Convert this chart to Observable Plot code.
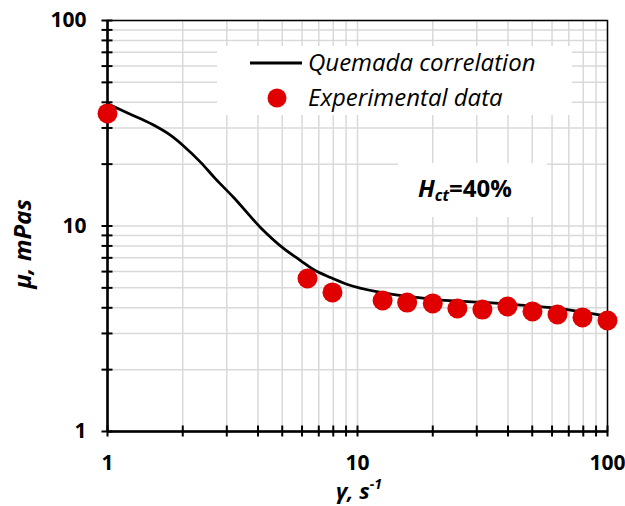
<!DOCTYPE html>
<html><head><meta charset="utf-8">
<script src="https://cdn.jsdelivr.net/npm/d3@7"></script>
<script src="https://cdn.jsdelivr.net/npm/@observablehq/plot@0.6"></script>
<style>
body{margin:0;background:#fff;}
#chart{position:relative;width:625px;height:506px;overflow:hidden;}
#chart svg g[aria-label$="tick label"] text{font-family:"Open Sans",sans-serif;font-weight:700;font-size:21px;fill:#000;}
</style></head><body><div id="chart"></div>
<script>
// Quemada correlation curve
const curveX = [1, 1.24, 1.49, 1.79, 2.01, 2.36, 2.7, 3.19, 4.09, 5.06, 5.92, 6.67, 7.8, 9.12, 12.4, 15.9, 20.1, 37.3, 69.2, 100];
const curveY = [39.4, 34.9, 31.5, 27.6, 24.6, 20.4, 17.0, 13.8, 9.84, 7.78, 6.79, 6.14, 5.61, 5.19, 4.75, 4.54, 4.39, 4.2, 3.92, 3.63];
// Experimental data
const expX = [1, 6.31, 7.94, 12.6, 15.8, 20, 25.1, 31.6, 39.8, 50.1, 63.1, 79.4, 100];
const expY = [35.3, 5.55, 4.75, 4.34, 4.24, 4.2, 3.97, 3.92, 4.06, 3.84, 3.71, 3.59, 3.47];
// ticks
const majorTicks = [1, 10, 100];
const gridValues = [1,2,3,4,5,6,7,8,9,10,20,30,40,50,60,70,80,90,100];
// texts
const legendLabels = ["Quemada correlation", "Experimental data"];
const annotation = ["H", "ct", "=40%"];
const xTitle = ["γ, s", "-1"];
const yTitle = "μ, mPas";

const curve = curveX.map((x, i) => ({x, y: curveY[i]}));
const exp = expX.map((x, i) => ({x, y: expY[i]}));
const red = "#e00000";
const noText = () => "";

const chart = Plot.plot({
  width: 625, height: 506,
  marginLeft: 107, marginRight: 18, marginTop: 20, marginBottom: 75,
  style: {background: "white"},
  x: {type: "log", domain: [1, 100]},
  y: {type: "log", domain: [1, 100]},
  marks: [
    Plot.gridX(gridValues, {stroke: "#d9d9d9", strokeOpacity: 1, strokeWidth: 1.5}),
    Plot.gridY(gridValues, {stroke: "#d9d9d9", strokeOpacity: 1, strokeWidth: 1.5}),
    Plot.frame({stroke: "black", strokeWidth: 1.5}),
    Plot.axisX(gridValues, {tickSize: 11, dy: -5.5, tickFormat: noText, stroke: "black", strokeWidth: 2, label: null}),
    Plot.axisY(gridValues, {tickSize: 11, dx: 5.5, tickFormat: noText, stroke: "black", strokeWidth: 2, label: null}),
    Plot.ruleX([1], {stroke: "black", strokeWidth: 2.5}),
    Plot.ruleY([1], {stroke: "black", strokeWidth: 2.5}),
    Plot.axisX(majorTicks, {tickSize: 0, tickPadding: 24, tickFormat: d => String(d), label: null}),
    Plot.axisY(majorTicks, {tickSize: 0, tickPadding: 21, tickFormat: d => String(d), label: null}),
    Plot.line(curve, {x: "x", y: "y", stroke: "black", strokeWidth: 2.75, curve: "monotone-x"}),
    Plot.dot(exp, {x: "x", y: "y", r: 10, fill: red, stroke: "none"})
  ]
});
document.getElementById("chart").appendChild(chart);

const svg = d3.select(chart);
const font = '"Open Sans", sans-serif';
// legend
const lg = svg.append("g").attr("text-anchor", "start");
lg.append("rect").attr("x", 217).attr("y", 46).attr("width", 355).attr("height", 69).attr("fill", "white");
lg.append("line").attr("x1", 250).attr("x2", 302).attr("y1", 63).attr("y2", 63).attr("stroke", "black").attr("stroke-width", 3);
lg.append("circle").attr("cx", 277).attr("cy", 98).attr("r", 9.5).attr("fill", red);
legendLabels.forEach((t, i) => {
  lg.append("text").attr("x", 308).attr("y", 63 + i * 35).attr("dy", "0.35em")
    .attr("font-family", font).attr("font-style", "italic").attr("font-size", 24).attr("fill", "black").text(t);
});
// annotation
const an = svg.append("g").attr("text-anchor", "start");
an.append("rect").attr("x", 398).attr("y", 163).attr("width", 149).attr("height", 54).attr("fill", "white");
const at = an.append("text").attr("x", 418).attr("y", 197).attr("font-family", font).attr("font-weight", 700).attr("font-size", 24).attr("fill", "black");
at.append("tspan").attr("font-style", "italic").text(annotation[0]);
at.append("tspan").attr("font-style", "italic").attr("font-size", 16).attr("dy", 4).text(annotation[1]);
at.append("tspan").attr("dy", -4).text(annotation[2]);
// x title
const xt = svg.append("text").attr("text-anchor", "start").attr("x", 336).attr("y", 499).attr("font-family", font).attr("font-weight", 700).attr("font-style", "italic").attr("font-size", 22).attr("fill", "black");
xt.append("tspan").text(xTitle[0]);
xt.append("tspan").attr("font-size", 14).attr("dy", -10).text(xTitle[1]);
// y title
svg.append("text").attr("transform", "translate(31,244) rotate(-90)").attr("text-anchor", "middle")
  .attr("font-family", font).attr("font-weight", 700).attr("font-style", "italic").attr("font-size", 24).attr("fill", "black").text(yTitle);
</script></body></html>
